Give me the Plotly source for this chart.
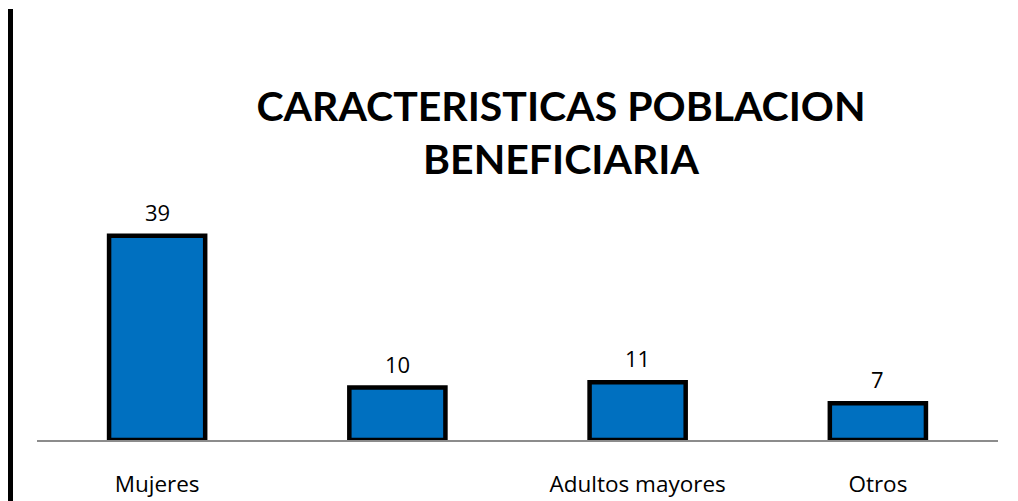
import plotly.graph_objects as go

categories = ["Mujeres", "", "Adultos mayores", "Otros"]
values = [39, 10, 11, 7]
title_text = "CARACTERISTICAS POBLACION<br>BENEFICIARIA"

FONT = "'Open Sans', Carlito, Calibri, sans-serif"
TFONT = "Lato, Carlito, Calibri, sans-serif"
xs = list(range(len(categories)))

# page body has an 8px margin, so figure coords = screen coords - 8
L, R, T, B = 29, 28, 170, 69
PW = 1018 - L - R
PH = 501 - T - B

fig = go.Figure()
fig.add_trace(go.Bar(
    x=xs, y=values,
    width=0.4,
    marker=dict(color="#0070C0", line=dict(color="#000000", width=4.5)),
    hoverinfo="skip",
))

for x, v in zip(xs, values):
    fig.add_annotation(x=x, y=v, text=str(v), showarrow=False,
                       yanchor="bottom", yshift=7,
                       font=dict(family=FONT, size=22, color="#000000"))

fig.update_layout(
    width=1018, height=501,
    margin=dict(l=L, r=R, t=T, b=B, autoexpand=False),
    paper_bgcolor="white", plot_bgcolor="white",
    showlegend=False,
    title=dict(text="<b>" + title_text + "</b>", x=553 / 1018, xanchor="center",
               y=1 - 113 / 501, yanchor="middle", xref="container", yref="container",
               font=dict(family=TFONT, size=41, color="#000000")),
    xaxis=dict(tickmode="array", tickvals=xs, ticktext=categories,
               range=[-0.5, len(categories) - 0.5], automargin=False,
               showline=True, linecolor="#8c8c8c", linewidth=2,
               ticks="outside", ticklen=23, tickcolor="rgba(0,0,0,0)",
               showgrid=False, zeroline=False,
               tickfont=dict(family=FONT, size=22.5, color="#000000")),
    yaxis=dict(range=[0, 50], visible=False, showgrid=False, zeroline=False,
               automargin=False),
    shapes=[dict(type="line", xref="paper", yref="paper",
                 x0=(2.5 - L) / PW, x1=(2.5 - L) / PW, y0=-B / PH, y1=(PH + T - 1) / PH,
                 line=dict(color="#000000", width=5))],
)

fig.write_html("out.html")
